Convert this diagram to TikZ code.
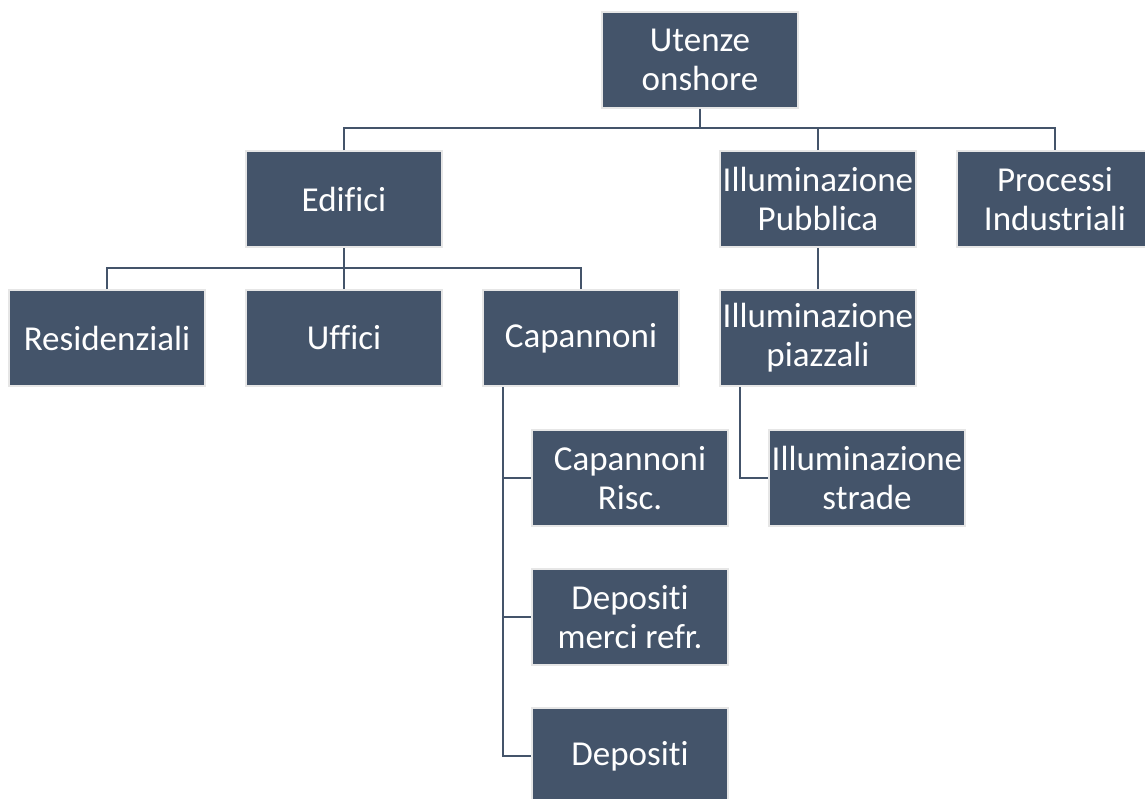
\documentclass[tikz,border=0pt]{standalone}
\usepackage{fontspec}
\setmainfont{Carlito}[Ligatures=NoCommon]
\definecolor{boxc}{HTML}{44546A}
\definecolor{edgec}{HTML}{E6E6E6}
\begin{document}
\begin{tikzpicture}[x=1pt,y=-1pt,
  box/.style={draw=edgec,line width=2pt,fill=boxc,text=white,minimum width=196pt,minimum height=96pt,inner sep=0pt,align=center,font=\fontsize{35}{39}\selectfont},
  conn/.style={draw=boxc,line width=2.8pt}]
\useasboundingbox (0,0) rectangle (1145,798);
\node[box] (uo) at (700,59.5) {Utenze\\onshore};
\node[box] (ed) at (344,199) {Edifici};
\node[box] (ip) at (818,199) {Illuminazione\\Pubblica};
\node[box] (pi) at (1055,199) {Processi\\Industriali};
\node[box] (re) at (107,338) {Residenziali};
\node[box] (uf) at (344,338) {Uffici};
\node[box] (ca) at (581,338) {Capannoni};
\node[box] (iz) at (818,338) {Illuminazione\\piazzali};
\node[box] (cr) at (630,478) {Capannoni\\Risc.};
\node[box] (dm) at (630,617) {Depositi\\merci refr.};
\node[box] (de) at (630,756) {Depositi};
\node[box] (is) at (867,478) {Illuminazione\\strade};
\coordinate (h1) at (700,128);
\coordinate (h2) at (344,268);
\draw[conn] (uo.south) -- (h1);
\draw[conn] (ed.north) |- (h1) -| (pi.north);
\draw[conn] (ip.north) -- (ip.north |- h1);
\draw[conn] (ed.south) -- (h2);
\draw[conn] (re.north) |- (h2) -| (ca.north);
\draw[conn] (uf.north) -- (h2);
\draw[conn] (ip.south) -- (iz.north);
\coordinate (cv) at (503,386);
\draw[conn] (ca.south -| cv) |- (cr.west);
\draw[conn] (ca.south -| cv) |- (dm.west);
\draw[conn] (ca.south -| cv) |- (de.west);
\coordinate (iv) at (740,386);
\draw[conn] (iz.south -| iv) |- (is.west);
\end{tikzpicture}
\end{document}
